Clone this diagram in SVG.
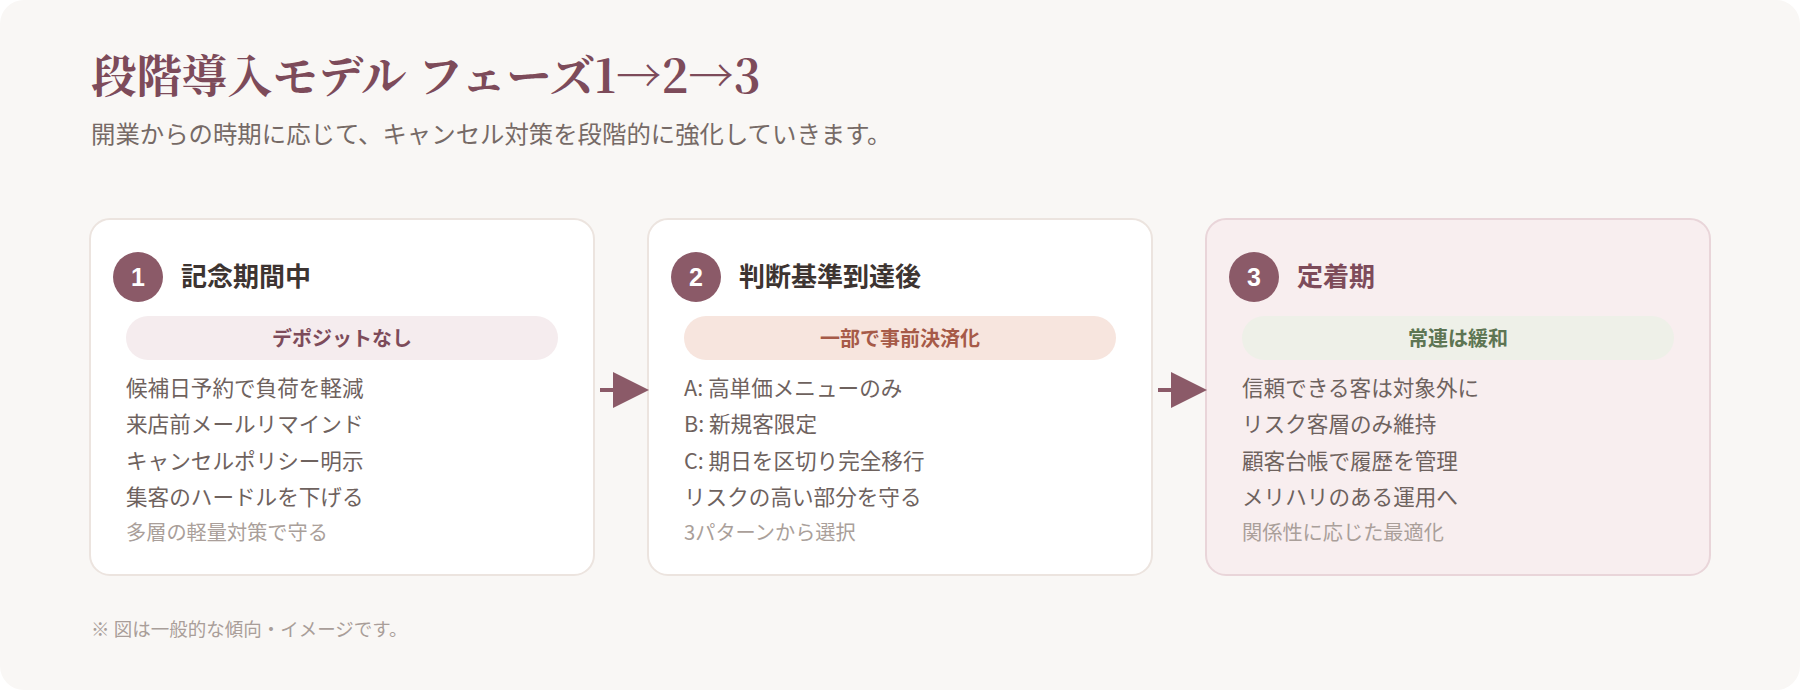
<svg xmlns="http://www.w3.org/2000/svg" width="1800" height="690" viewBox="0 0 1800 690">
  <defs>
    <marker id="arrowHead" markerUnits="userSpaceOnUse" markerWidth="36" markerHeight="36" viewBox="0 0 36 36" refX="0" refY="18" orient="auto">
      <path d="M0 0 L36 18 L0 36 Z" fill="#8b5a68"/>
    </marker>
    <style>
      .sans { font-family: "Noto Sans CJK JP", "Noto Sans", sans-serif; }
      .title { font-family: "Noto Serif CJK JP", "Liberation Serif", "Noto Sans CJK JP", serif; font-size: 45.4px; font-weight: 700; fill: #7d4b5a; }
      .subtitle { font-size: 24.4px; fill: #766a66; }
      .card { fill: #ffffff; stroke: #ece4df; stroke-width: 2; }
      .card3 { fill: #f8eeef; stroke: #e9d5d9; stroke-width: 2; }
      .badge { fill: #8b5a68; }
      .badgeNum { font-family: "Liberation Sans", "Noto Sans", sans-serif; font-size: 25px; font-weight: 700; fill: #ffffff; text-anchor: middle; }
      .heading { font-size: 26px; font-weight: 700; fill: #3d3431; }
      .heading3 { font-size: 26px; font-weight: 700; fill: #7d4b5a; }
      .pillText { font-size: 20px; font-weight: 700; text-anchor: middle; }
      .item { font-size: 21.6px; fill: #6e625e; }
      .note { font-size: 20.2px; fill: #aa9f9a; }
      .foot { font-size: 18.5px; fill: #a99e99; }
      .conn { fill: none; stroke: #8b5a68; stroke-width: 4; }
    </style>
  </defs>

  <rect x="0" y="0" width="1800" height="690" fill="#ffffff"/>
  <rect id="background" x="0" y="0" width="1800" height="690" rx="24" ry="24" fill="#f9f7f5"/>

  <g id="header">
    <text class="title" x="91" y="93">段階導入モデル フェーズ1→2→3</text>
    <text class="sans subtitle" x="91" y="143">開業からの時期に応じて、キャンセル対策を段階的に強化していきます。</text>
  </g>

  <g id="phase1">
    <rect class="card" x="90" y="219" width="504" height="356" rx="20" ry="20"/>
    <circle class="badge" cx="138" cy="277" r="25"/>
    <text class="badgeNum" x="138" y="286">1</text>
    <text class="sans heading" x="181" y="286">記念期間中</text>
    <rect x="126" y="316" width="432" height="44" rx="22" ry="22" fill="#f5ecee"/>
    <text class="sans pillText" x="342" y="345.5" fill="#7d4b5a">デポジットなし</text>
    <text class="sans item" x="126" y="396">候補日予約で負荷を軽減</text>
    <text class="sans item" x="126" y="432">来店前メールリマインド</text>
    <text class="sans item" x="126" y="468.5">キャンセルポリシー明示</text>
    <text class="sans item" x="126" y="505">集客のハードルを下げる</text>
    <text class="sans note" x="126" y="540">多層の軽量対策で守る</text>
  </g>

  <g id="phase2">
    <rect class="card" x="648" y="219" width="504" height="356" rx="20" ry="20"/>
    <circle class="badge" cx="696" cy="277" r="25"/>
    <text class="badgeNum" x="696" y="286">2</text>
    <text class="sans heading" x="739" y="286">判断基準到達後</text>
    <rect x="684" y="316" width="432" height="44" rx="22" ry="22" fill="#f7e5de"/>
    <text class="sans pillText" x="900" y="345.5" fill="#a65a48">一部で事前決済化</text>
    <text class="sans item" x="684" y="396">A: 高単価メニューのみ</text>
    <text class="sans item" x="684" y="432">B: 新規客限定</text>
    <text class="sans item" x="684" y="468.5">C: 期日を区切り完全移行</text>
    <text class="sans item" x="684" y="505">リスクの高い部分を守る</text>
    <text class="sans note" x="684" y="540">3パターンから選択</text>
  </g>

  <g id="phase3">
    <rect class="card3" x="1206" y="219" width="504" height="356" rx="20" ry="20"/>
    <circle class="badge" cx="1254" cy="277" r="25"/>
    <text class="badgeNum" x="1254" y="286">3</text>
    <text class="sans heading3" x="1297" y="286">定着期</text>
    <rect x="1242" y="316" width="432" height="44" rx="22" ry="22" fill="#eef0e8"/>
    <text class="sans pillText" x="1458" y="345.5" fill="#5d7553">常連は緩和</text>
    <text class="sans item" x="1242" y="396">信頼できる客は対象外に</text>
    <text class="sans item" x="1242" y="432">リスク客層のみ維持</text>
    <text class="sans item" x="1242" y="468.5">顧客台帳で履歴を管理</text>
    <text class="sans item" x="1242" y="505">メリハリのある運用へ</text>
    <text class="sans note" x="1242" y="540">関係性に応じた最適化</text>
  </g>

  <g id="connectors">
    <path class="conn" d="M600 390 H613" marker-end="url(#arrowHead)"/>
    <path class="conn" d="M1158 390 H1171" marker-end="url(#arrowHead)"/>
  </g>

  <g id="footnote">
    <text class="sans foot" x="91" y="636">※ 図は一般的な傾向・イメージです。</text>
  </g>
</svg>
